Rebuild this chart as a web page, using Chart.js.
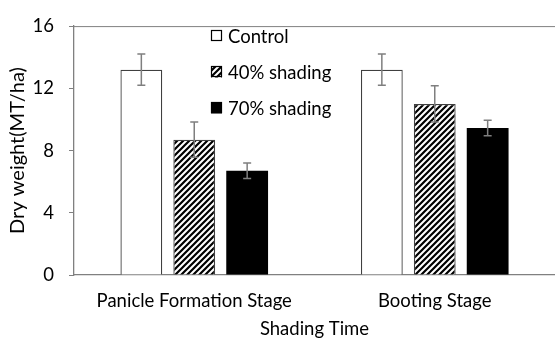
<!DOCTYPE html>
<html>
<head>
<meta charset="utf-8">
<script src="https://cdn.jsdelivr.net/npm/chart.js@4"></script>
<style>
  html, body { margin: 0; padding: 0; background: #fff; overflow: hidden; }
  #wrap { width: 555px; height: 340px; position: relative; }
</style>
</head>
<body>
<div id="wrap"><canvas id="chart"></canvas></div>
<script>
// data
const stages = ['Panicle Formation Stage', 'Booting Stage'];
const seriesNames = ['Control', '40% shading', '70% shading'];
const controlVals = [13.2, 13.2];
const shade40Vals = [8.7, 11.0];
const shade70Vals = [6.7, 9.45];
const controlErr = [1.0, 1.0];
const shade40Err = [1.13, 1.17];
const shade70Err = [0.5, 0.5];
const yTicks = [0, 4, 8, 12, 16];

const FONT = 'Lato, "Open Sans", sans-serif';
const FS = 18.5;

// diagonal hatch for the 40% bars
function makeHatch() {
  const c = document.createElement('canvas');
  c.width = 6; c.height = 6;
  const g = c.getContext('2d');
  g.fillStyle = '#fff';
  g.fillRect(0, 0, 6, 6);
  g.strokeStyle = '#000';
  g.lineWidth = 2.2;
  g.beginPath();
  g.moveTo(-1, 7); g.lineTo(7, -1);
  g.moveTo(-4, 4); g.lineTo(4, -4);
  g.moveTo(2, 10); g.lineTo(10, 2);
  g.stroke();
  return g.createPattern(c, 'repeat');
}
const hatch = makeHatch();

const errs = [controlErr, shade40Err, shade70Err];

// error bars, drawn through the chart's own scales
const errorBars = {
  id: 'errorBars',
  afterDatasetsDraw(chart) {
    const ctx = chart.ctx;
    const y = chart.scales.y;
    ctx.save();
    ctx.strokeStyle = '#7f7f7f';
    ctx.lineWidth = 1.5;
    chart.data.datasets.forEach((ds, di) => {
      chart.getDatasetMeta(di).data.forEach((bar, i) => {
        const v = ds.data[i], e = errs[di][i];
        const top = y.getPixelForValue(v + e);
        const bot = y.getPixelForValue(v - e);
        ctx.beginPath();
        ctx.moveTo(bar.x, top); ctx.lineTo(bar.x, bot);
        ctx.moveTo(bar.x - 4, top); ctx.lineTo(bar.x + 4, top);
        ctx.moveTo(bar.x - 4, bot); ctx.lineTo(bar.x + 4, bot);
        ctx.stroke();
      });
    });
    ctx.restore();
  }
};

// top frame line + legend inside the plot
const extras = {
  id: 'extras',
  afterDraw(chart) {
    const ctx = chart.ctx;
    const a = chart.chartArea;
    ctx.save();
    ctx.strokeStyle = '#808080';
    ctx.lineWidth = 1;
    ctx.beginPath();
    ctx.moveTo(a.left, a.top + 0.5); ctx.lineTo(a.right, a.top + 0.5);
    ctx.stroke();

    ctx.font = FS + 'px ' + FONT;
    ctx.textBaseline = 'middle';
    chart.data.datasets.forEach((ds, di) => {
      const cy = 36 + di * 36;
      const sx = 211;
      ctx.fillStyle = ds.backgroundColor;
      ctx.fillRect(sx, cy - 5.5, 11, 11);
      ctx.strokeStyle = '#000';
      ctx.lineWidth = 1.2;
      ctx.strokeRect(sx + 0.5, cy - 5.5, 10, 10);
      ctx.fillStyle = '#000';
      ctx.fillText(ds.label, 228, cy + 1);
    });
    ctx.restore();
  }
};

new Chart(document.getElementById('chart'), {
  type: 'bar',
  data: {
    labels: stages,
    datasets: [
      { label: seriesNames[0], data: controlVals, backgroundColor: '#ffffff', borderColor: '#404040', borderWidth: 1.3 },
      { label: seriesNames[1], data: shade40Vals, backgroundColor: hatch, borderColor: '#404040', borderWidth: 1.3 },
      { label: seriesNames[2], data: shade70Vals, backgroundColor: '#000000', borderColor: '#000000', borderWidth: 0 }
    ]
  },
  options: {
    responsive: true,
    maintainAspectRatio: false,
    animation: false,
    events: [],
    layout: { padding: { top: 17, right: 0, left: 0, bottom: 0 } },
    categoryPercentage: 0.66,
    barPercentage: 0.79,
    plugins: { legend: { display: false }, tooltip: { enabled: false } },
    scales: {
      x: {
        grid: { display: false, drawTicks: false },
        border: { display: true, color: '#808080', width: 1.3 },
        ticks: { color: '#000', font: { family: FONT, size: FS }, padding: 15, maxRotation: 0 },
        title: { display: true, text: 'Shading Time', color: '#000', font: { family: FONT, size: FS }, padding: { top: 0, bottom: 0 } },
        afterFit(s) { s.height = 65; }
      },
      y: {
        min: 0, max: 16,
        afterBuildTicks(s) { s.ticks = yTicks.map(v => ({ value: v })); },
        grid: { display: true, drawOnChartArea: false, drawTicks: true, tickLength: 5, color: '#808080' },
        border: { display: true, color: '#808080', width: 1.3 },
        ticks: { color: '#000', font: { family: FONT, size: FS }, padding: 15 },
        title: { display: true, text: 'Dry weight(MT/ha)', color: '#000', font: { family: FONT, size: 20 }, padding: { bottom: 0, top: 6 } },
        afterFit(s) { s.width = 74; }
      }
    }
  },
  plugins: [errorBars, extras]
});
</script>
</body>
</html>
